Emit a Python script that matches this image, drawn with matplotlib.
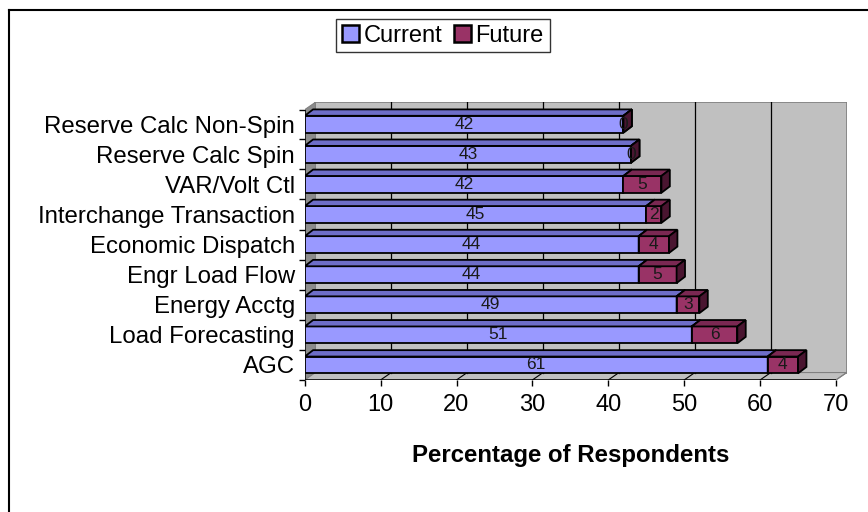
import matplotlib
matplotlib.use("Agg")
import matplotlib.pyplot as plt
from matplotlib.patches import Polygon, Patch
from matplotlib.lines import Line2D

plt.rcParams['font.family'] = ['Liberation Sans', 'DejaVu Sans']

categories = ["AGC", "Load Forecasting", "Energy Acctg", "Engr Load Flow",
              "Economic Dispatch", "Interchange Transaction", "VAR/Volt Ctl",
              "Reserve Calc Spin", "Reserve Calc Non-Spin"]
current = [61, 51, 49, 44, 44, 45, 42, 43, 42]
future = [4, 6, 3, 5, 4, 2, 5, 0, 0]
xticks = [0, 10, 20, 30, 40, 50, 60, 70]
series_names = ["Current", "Future"]

W, H = 868, 512
fig = plt.figure(figsize=(W / 100, H / 100), dpi=100)

pxu = 7.59      # px per value unit
pyu = 30.1      # px per category unit
wdx, wdy = 10.7 / pxu, 7.4 / pyu     # wall depth
bdx, bdy = 8.4 / pxu, 6.4 / pyu      # bar depth
hh = 8.4 / pyu                        # half height of bar front
xmax = 70
ybot = -15.0 / pyu
ytop = ybot + wdy + (372.6 - 102.3) / pyu

x0px, ybotpx = 304.7, 380.0
axw = (xmax + wdx) * pxu
axh = (ytop - ybot) * pyu
ax = fig.add_axes([x0px / W, (H - ybotpx) / H, axw / W, axh / H])
ax.set_xlim(0, xmax + wdx)
ax.set_ylim(ybot, ytop)
for s in ax.spines.values():
    s.set_visible(False)
ax.patch.set_alpha(0)

# back wall
ax.add_patch(Polygon([(wdx, ybot + wdy), (xmax + wdx, ybot + wdy), (xmax + wdx, ytop), (wdx, ytop)],
                     closed=True, facecolor="#C0C0C0", edgecolor="#808080", lw=1.2, zorder=1))
# left wall
ax.add_patch(Polygon([(0, ybot), (wdx, ybot + wdy), (wdx, ytop), (0, ytop - wdy)],
                     closed=True, facecolor="#8C8C8C", edgecolor="#808080", lw=0.8, zorder=1))
# floor
ax.add_patch(Polygon([(0, ybot), (xmax, ybot), (xmax + wdx, ybot + wdy), (wdx, ybot + wdy)],
                     closed=True, facecolor="#C0C0C0", edgecolor="#808080", lw=0.8, zorder=1))
for v in xticks[1:-1]:
    ax.plot([v + wdx, v + wdx], [ybot + wdy, ytop], color="black", lw=0.9, zorder=2)
    ax.plot([v, v + wdx], [ybot, ybot + wdy], color="black", lw=0.8, zorder=2)
ax.plot([xmax, xmax + wdx], [ybot, ybot + wdy], color="#808080", lw=0.8, zorder=2)

# axes lines
ax.plot([0, xmax], [ybot, ybot], color="black", lw=1.1, zorder=6, solid_capstyle="butt")
ax.plot([0, 0], [ybot, ytop - wdy], color="black", lw=1.1, zorder=6, solid_capstyle="butt")


def bar3d(x0, x1, c, front, top, side, z):
    ax.add_patch(Polygon([(x0, c - hh), (x1, c - hh), (x1, c + hh), (x0, c + hh)], closed=True,
                         facecolor=front, edgecolor="black", lw=1.3, zorder=z, joinstyle="miter"))
    ax.add_patch(Polygon([(x0, c + hh), (x1, c + hh), (x1 + bdx, c + hh + bdy), (x0 + bdx, c + hh + bdy)],
                         closed=True, facecolor=top, edgecolor="black", lw=1.3, zorder=z, joinstyle="miter"))
    ax.add_patch(Polygon([(x1, c - hh), (x1 + bdx, c - hh + bdy), (x1 + bdx, c + hh + bdy), (x1, c + hh)],
                         closed=True, facecolor=side, edgecolor="black", lw=1.3, zorder=z, joinstyle="miter"))


for i, (cv, fv) in enumerate(zip(current, future)):
    z = 10 + (len(categories) - i)
    bar3d(0, cv, i, "#9999FF", "#6E6EC8", "#4D4D99", z)
    bar3d(cv, cv + fv, i, "#993366", "#7A2852", "#4A1530", z + 0.1)
    ax.text(cv / 2, i, str(cv), ha="center", va="center", fontsize=12.5, color="#1a1a1a", zorder=z + 0.3)
    ax.text(cv + fv / 2, i, str(fv), ha="center", va="center", fontsize=12.5, color="#1a1a1a", zorder=z + 0.3)

# ticks
ax.set_xticks(xticks)
ax.set_xticklabels([str(t) for t in xticks], fontsize=17)
ax.tick_params(axis="x", direction="out", length=4, width=1, pad=6, color="black")
ax.set_yticks(range(len(categories)))
ax.set_yticklabels(categories, fontsize=17.3)
ax.tick_params(axis="y", which="major", length=0, pad=7)
ax.set_yticks([k - 0.5 for k in range(len(categories))] + [ytop - wdy], minor=True)
ax.tick_params(axis="y", which="minor", length=4, width=1, color="black")

fig.text(571 / W, 1 - 462 / H, "Percentage of Respondents", ha="center", va="baseline",
         fontsize=17.3, fontweight="bold")

handles = [Patch(facecolor="#9999FF", edgecolor="black", lw=1.8),
           Patch(facecolor="#993366", edgecolor="black", lw=1.8)]
leg = fig.legend(handles, series_names, loc="center", bbox_to_anchor=(443 / W, 1 - 35.5 / H),
                 ncol=2, frameon=True, fancybox=False, fontsize=17, handlelength=0.7,
                 handleheight=0.7, handletextpad=0.2, columnspacing=0.5, borderpad=0.25,
                 borderaxespad=0)
leg.get_frame().set_edgecolor("black")
leg.get_frame().set_linewidth(1.0)

# outer border (left and top)
fig.add_artist(Line2D([9 / W, 9 / W], [0, 1 - 10 / H], color="black", lw=1.5))
fig.add_artist(Line2D([9 / W, 1], [1 - 10 / H, 1 - 10 / H], color="black", lw=1.5))

fig.savefig("out.png", dpi=100)
